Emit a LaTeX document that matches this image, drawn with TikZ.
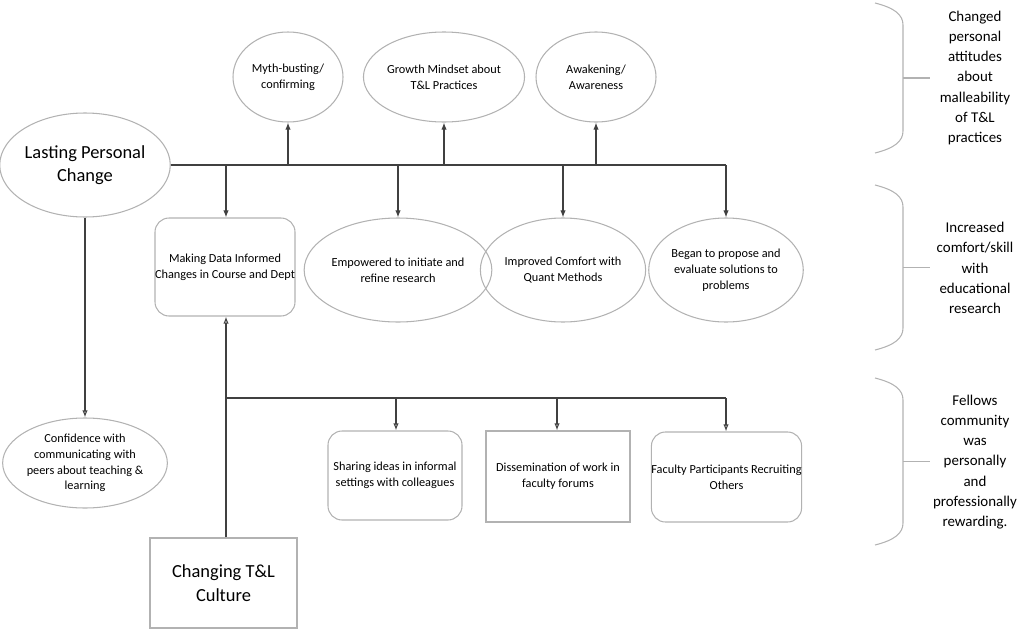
\documentclass[tikz,border=0pt]{standalone}
\usepackage{fontspec}
\setmainfont{Carlito}
\usetikzlibrary{shapes.geometric,arrows.meta}
\begin{document}
\begin{tikzpicture}[x=0.02cm,y=-0.02cm,
  shp/.style={draw=black!30,line width=0.6pt,align=center,inner sep=0pt},
  el/.style={shp,ellipse},
  rbox/.style={shp,rectangle,rounded corners=8pt},
  sbox/.style={shp,rectangle},
  st/.style={font=\fontsize{7}{9}\selectfont},
  conn/.style={draw=black!75,line width=0.6pt},
  fa/.style={conn,-{Latex[length=4pt,width=3pt]}},
  oa/.style={conn,-{Latex[open,length=4pt,width=3pt]}},
  brace/.style={draw=black!30,line width=0.6pt},
  bt/.style={align=center,font=\fontsize{8.5}{11.5}\selectfont}]
\useasboundingbox (0,0) rectangle (1024,632);
\node[el,minimum width=164*0.02cm,minimum height=104*0.02cm,font=\fontsize{10.5}{13}\selectfont] (lpc) at (85,165) {Lasting Personal\\Change};
\node[el,st,minimum width=110*0.02cm,minimum height=90*0.02cm] (myth) at (288,77) {Myth-busting/\\confirming};
\node[el,st,minimum width=132*0.02cm,minimum height=90*0.02cm] (grow) at (444,77) {Growth Mindset about\\T\&L Practices};
\node[el,st,minimum width=120*0.02cm,minimum height=90*0.02cm] (awak) at (596,77) {Awakening/\\Awareness};
\node[rbox,st,minimum width=140*0.02cm,minimum height=98*0.02cm] (data) at (225,267) {Making Data Informed\\Changes in Course and Dept};
\node[el,st,minimum width=140*0.02cm,minimum height=104*0.02cm] (emp) at (398,270) {Empowered to initiate and\\refine research};
\node[el,st,minimum width=136*0.02cm,minimum height=104*0.02cm] (imp) at (563,270) {Improved Comfort with\\Quant Methods};
\node[el,st,minimum width=154*0.02cm,minimum height=104*0.02cm] (began) at (726,270) {Began to propose and\\evaluate solutions to\\problems};
\node[el,st,minimum width=130*0.02cm,minimum height=90*0.02cm] (conf) at (85,463) {Confidence with\\communicating with\\peers about teaching \&\\learning};
\node[sbox,minimum width=147*0.02cm,minimum height=90*0.02cm,font=\fontsize{10.5}{14}\selectfont] (cult) at (223.5,583) {Changing T\&L\\Culture};
\node[rbox,st,minimum width=134*0.02cm,minimum height=89*0.02cm] (share) at (395,475.5) {Sharing ideas in informal\\settings with colleagues};
\node[sbox,st,minimum width=144*0.02cm,minimum height=91*0.02cm] (diss) at (558,476.5) {Dissemination of work in\\faculty forums};
\node[rbox,st,minimum width=143*0.02cm,minimum height=90*0.02cm] (fac) at (726.5,477) {Faculty Participants Recruiting\\Others};
% top bus
\draw[conn] (lpc.east) -- (726,165);
\foreach \n/\x in {myth/288,grow/444,awak/596}{\draw[fa] (\x,165) -- (\n.south);}
\draw[fa] (226,165) -- (data.north -| 226,0);
\draw[fa] (398,165) -- (emp.north);
\draw[fa] (563,165) -- (imp.north);
\draw[fa] (726,165) -- (began.north);
\draw[oa] (lpc.south) -- (conf.north);
\draw[oa] (cult.north -| 226,0) -- (data.south -| 226,0);
\draw[conn] (226,398) -- (726,398);
\draw[oa] (396,398) -- (share.north -| 396,0);
\draw[oa] (557,398) -- (diss.north -| 557,0);
\draw[oa] (726,398) -- (fac.north -| 726,0);
% braces
\foreach \a/\b in {3/153,185/350,378/545}{
  \draw[brace] (875,\a) .. controls (895,\a+5) and (903,\a+12) .. (903,\a+22) -- (903,\b-22) .. controls (903,\b-12) and (895,\b-5) .. (875,\b);
  \draw[brace] (903,{(\a+\b)/2}) -- (930,{(\a+\b)/2});}
\node[bt] (t1) at (975,78) {Changed\\personal\\attitudes\\about\\malleability\\of T\&L\\practices};
\node[bt] (t2) at (975,268) {Increased\\comfort/skill\\with\\educational\\research};
\node[bt] (t3) at (975,462) {Fellows\\community\\was\\personally\\and\\professionally\\rewarding.};
\end{tikzpicture}
\end{document}
